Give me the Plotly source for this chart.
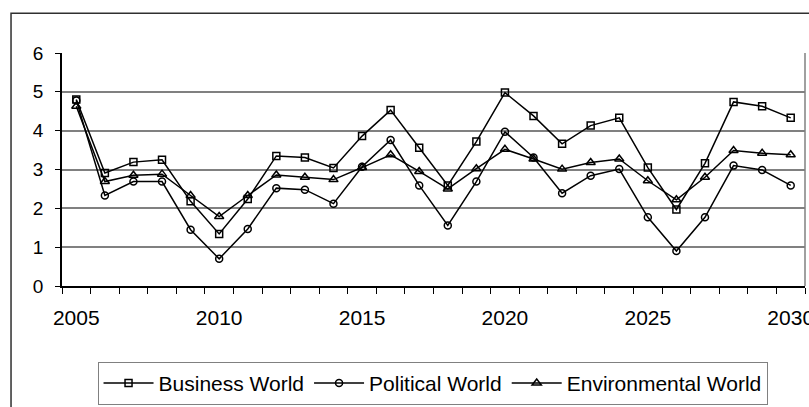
import plotly.graph_objects as go

years = [str(y) for y in range(2005, 2031)]

business_world = [4.80, 2.91, 3.19, 3.25, 2.18, 1.34, 2.24, 3.35, 3.31, 3.04,
                  3.86, 4.53, 3.56, 2.59, 3.72, 4.98, 4.38, 3.66, 4.13, 4.33,
                  3.05, 1.97, 3.16, 4.74, 4.63, 4.33]
political_world = [4.78, 2.33, 2.69, 2.69, 1.45, 0.70, 1.47, 2.52, 2.48, 2.12,
                   3.07, 3.76, 2.59, 1.56, 2.69, 3.97, 3.31, 2.39, 2.84, 3.01,
                   1.77, 0.90, 1.77, 3.10, 2.99, 2.59]
environmental_world = [4.63, 2.69, 2.85, 2.88, 2.33, 1.79, 2.33, 2.86, 2.80, 2.74,
                       3.05, 3.38, 2.95, 2.50, 3.02, 3.52, 3.27, 3.01, 3.18, 3.27,
                       2.71, 2.22, 2.80, 3.49, 3.42, 3.38]

label_years = ["2005", "2010", "2015", "2020", "2025", "2030"]
y_ticks = [0, 1, 2, 3, 4, 5, 6]

FONT = "Liberation Sans, Arial, sans-serif"

series = [
    ("Business World", business_world, "square-open", 7),
    ("Political World", political_world, "circle-open", 7),
    ("Environmental World", environmental_world, "triangle-up-open", 8),
]

fig = go.Figure()
for name, vals, sym, size in series:
    fig.add_trace(go.Scatter(
        x=years, y=vals, name=name, mode="lines+markers",
        line=dict(color="black", width=1.5),
        marker=dict(symbol=sym, size=size, color="black",
                    line=dict(color="black", width=1.5)),
    ))

fig.update_layout(
    width=809, height=407,
    margin=dict(l=62, r=4, t=53, b=120),
    paper_bgcolor="white", plot_bgcolor="white",
    font=dict(family=FONT, size=19, color="black"),
    showlegend=True,
    legend=dict(
        orientation="h", x=0.4987, xanchor="center", y=-0.32, yanchor="top",
        bordercolor="#808080", borderwidth=1, bgcolor="white",
        font=dict(family=FONT, size=21, color="black"),
        itemwidth=50, tracegroupgap=0,
    ),
    xaxis=dict(
        type="category", categoryorder="array", categoryarray=years,
        range=[-0.5, len(years) - 0.5],
        tickmode="array", tickvals=years,
        ticktext=[y if y in label_years else "" for y in years],
        tickson="boundaries", ticks="outside", ticklen=6,
        tickcolor="black", tickwidth=1.2, tickangle=0,
        showgrid=False, zeroline=False, showline=True,
        linecolor="black", linewidth=1.5, automargin=False,
        ticklabelstandoff=12, ticklabeloverflow="allow",
        tickfont=dict(family=FONT, size=21, color="black"),
    ),
    yaxis=dict(
        range=[0, 6], tickmode="array", tickvals=y_ticks, ticks="outside",
        ticklen=5, tickcolor="black", showgrid=True, gridcolor="#808080",
        gridwidth=1.5, zeroline=False, showline=True, linecolor="black",
        linewidth=1.5, ticklabelstandoff=8, automargin=False,
        tickfont=dict(family=FONT, size=19, color="black"),
    ),
)

# Plot-area right border and outer chart frame
fig.add_shape(type="line", xref="paper", yref="paper", x0=1, x1=1, y0=0, y1=1,
              line=dict(color="#808080", width=1.5))
fig.add_shape(type="rect", xref="paper", yref="paper",
              x0=-0.0686, x1=1.2, y0=-0.7, y1=1.171,
              line=dict(color="#303030", width=1.5), layer="below")

fig.write_html("out.html")
